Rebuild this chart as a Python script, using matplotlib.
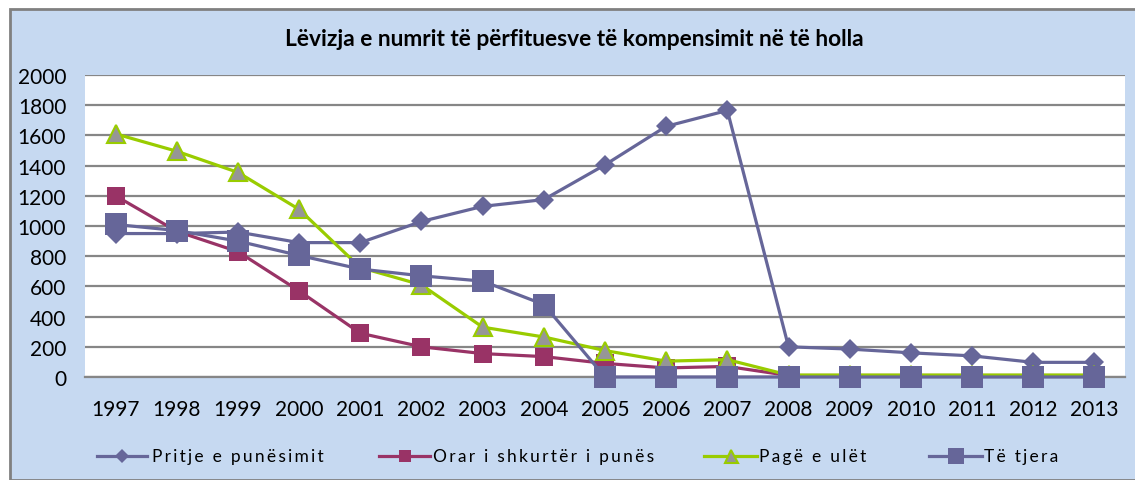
import matplotlib
matplotlib.use("Agg")
import matplotlib.pyplot as plt
from matplotlib.patches import Rectangle
from matplotlib.lines import Line2D

years = ["1997", "1998", "1999", "2000", "2001", "2002", "2003", "2004", "2005",
         "2006", "2007", "2008", "2009", "2010", "2011", "2012", "2013"]
pritje = [950, 950, 960, 890, 890, 1030, 1130, 1175, 1405, 1660, 1765, 200, 185, 160, 140, 97, 97]
orar = [1200, 965, 830, 570, 290, 200, 155, 135, 90, 60, 70, 10, 10, 10, 10, 10, 10]
page = [1610, 1495, 1355, 1110, 725, 610, 330, 265, 175, 105, 115, 13, 13, 13, 13, 13, 13]
tjera = [1010, 970, 900, 805, 715, 670, 635, 480, 0, 0, 0, 0, 0, 0, 0, 0, 0]
labels = ["Pritje e punësimit", "Orar i shkurtër i punës", "Pagë e ulët", "Të tjera"]
yticks = [0, 200, 400, 600, 800, 1000, 1200, 1400, 1600, 1800, 2000]
title = "Lëvizja e numrit të përfituesve të kompensimit në të holla"

plt.rcParams['font.family'] = ['Lato', 'DejaVu Sans']

W, H = 1135, 481
fig = plt.figure(figsize=(W / 100, H / 100), dpi=100)
fig.patch.set_facecolor('white')
bg = Rectangle((10 / W, 0), 1.2, 1 - 10 / H, transform=fig.transFigure,
               facecolor='#C6D9F1', edgecolor='#808080', linewidth=2, zorder=-10)
fig.patches.append(bg)

ax = fig.add_axes([85 / W, 1 - 378 / H, (1125 - 85) / W, (378 - 76) / H])
ax.set_facecolor('white')

x = list(range(len(years)))
purple = '#666699'
red = '#993366'
green = '#99CC00'

styles = [
    dict(color=purple, marker='D', ms=10, mfc=purple, mec=purple, mew=0),
    dict(color=red, marker='s', ms=12.5, mfc=red, mec=red, mew=0),
    dict(color=green, marker='^', ms=13, mfc='#969696', mec=green, mew=1.5),
    dict(color=purple, marker='s', ms=16.3, mfc=purple, mec=purple, mew=0),
]
series = [pritje, orar, page, tjera]
for i, (vals, st) in enumerate(zip(series, styles)):
    ax.plot(x, vals, lw=2.3, label=labels[i], zorder=3 + i, clip_on=False, **st)

ax.set_xlim(-0.5, len(years) - 0.5)
ax.set_ylim(0, 2000)
ax.set_yticks(yticks)
ax.set_yticklabels([str(v) for v in yticks])
ax.set_xticks(x)
ax.set_xticklabels(years)
ax.yaxis.grid(True, color='#868686', lw=1.6, zorder=0)
ax.set_axisbelow(True)
for s in ['top', 'right', 'left']:
    ax.spines[s].set_visible(False)
ax.spines['bottom'].set_color('#868686')
ax.spines['bottom'].set_linewidth(1.6)
ax.tick_params(axis='both', length=0, labelsize=15, colors='black')
ax.tick_params(axis='y', pad=13.5)
ax.tick_params(axis='x', pad=16)

fig.text(0.5 * (278 + 870) / W, 1 - 40 / H, title, ha='center', va='center',
         fontsize=16.4, fontweight='bold')

# legend, placed item by item
leg_y = 1 - 457 / H
line_x = [(97, 147), (379, 430), (704, 757), (929, 982)]
text_x = [152, 433, 759, 984]
for i, st in enumerate(styles):
    x0, x1 = line_x[i]
    fig.add_artist(Line2D([x0 / W, x1 / W], [leg_y, leg_y], transform=fig.transFigure,
                          lw=2.3, color=st['color']))
    fig.add_artist(Line2D([(x0 + x1) / 2 / W], [leg_y], transform=fig.transFigure,
                          lw=0, marker=st['marker'], ms=st['ms'] * 0.72,
                          mfc=st['mfc'], mec=st['mec'], mew=st['mew']))
    spaced = '\u200a\u200a'.join(labels[i])
    fig.text(text_x[i] / W, leg_y, spaced, ha='left', va='center', fontsize=12.5)

fig.savefig('out.png', dpi=100)
